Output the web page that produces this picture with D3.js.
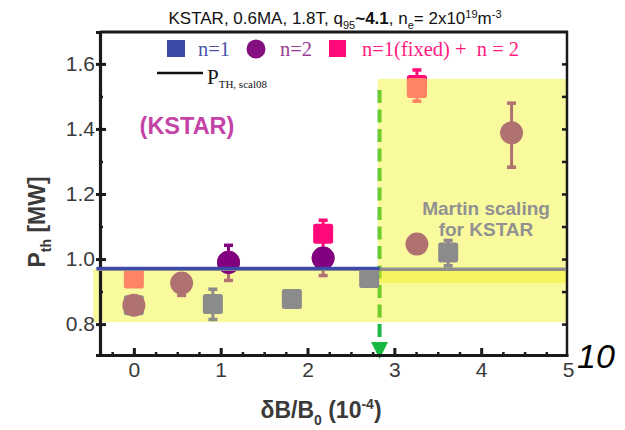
<!DOCTYPE html>
<html>
<head>
<meta charset="utf-8">
<script src="https://cdn.jsdelivr.net/npm/d3@7/dist/d3.min.js"></script>
<style>
  html, body { margin: 0; padding: 0; background: #fff; }
  svg { display: block; }
  text { font-family: "Liberation Sans", Arial, sans-serif; }
  .serif { font-family: "Liberation Serif", "Times New Roman", serif; }
</style>
</head>
<body>
<svg id="chart" width="625" height="430"></svg>
<script>
// ---- data -------------------------------------------------------------
const xTicks = [0, 1, 2, 3, 4, 5];
const yTicks = [0.8, 1.0, 1.2, 1.4, 1.6];

// n=1 scan (grey squares)
const n1X  = [0, 0.91, 1.82, 2.71, 3.62];
const n1Y  = [0.858, 0.862, 0.877, 0.942, 1.020];
const n1Lo = [0.850, 0.815, 0.868, 0.940, 0.980];
const n1Hi = [0.866, 0.908, 0.886, 0.944, 1.058];

// n=2 scan (brown circles)
const n2X  = [0, 0.55, 1.09, 2.18, 3.26, 4.35];
const n2Y  = [0.858, 0.926, 0.990, 1.003, 1.046, 1.388];
const n2Lo = [0.858, 0.889, 0.935, 0.950, 1.046, 1.283];
const n2Hi = [0.858, 0.926, 0.990, 1.003, 1.046, 1.480];

// n=1(fixed) + n=2 scan (salmon squares)
const fixX  = [0, 3.26];
const fixY  = [0.940, 1.526];
const fixLo = [0.940, 1.486];
const fixHi = [0.940, 1.526];

// highlighted n=2 points (purple circles)
const hN2X  = [1.09, 2.18];
const hN2Y  = [0.990, 1.003];
const hN2Lo = [0.990, 1.003];
const hN2Hi = [1.043, 1.003];

// highlighted n=1(fixed)+n=2 points (pink squares)
const hFixX  = [2.18, 3.26];
const hFixY  = [1.078, 1.535];
const hFixLo = [1.030, 1.535];
const hFixHi = [1.120, 1.582];

// threshold power from the ITPA 2008 scaling and the locking threshold
const pThScal08 = 0.97;
const lockX = 2.83;

// shaded bands: [x0, x1, y0, y1]
const bandLow  = [-0.47, 4.98, 0.806, 0.970];
const bandHigh = [2.81, 4.98, 0.926, 1.554];

// ---- scales -----------------------------------------------------------
const svg = d3.select("#chart");
const x = d3.scaleLinear().domain([-0.39, 5.0]).range([100, 568]);
const y = d3.scaleLinear().domain([0.705, 1.698]).range([355, 32]);

const C = {
  gray: "#8b8b8b", brown: "#b07270", salmon: "#ff8466",
  purple: "#82007f", pink: "#ff0a78", blue: "#3d4aa6",
  green: "#1fb845", yellow: "rgb(240,240,0)"
};

// ---- locking threshold arrow (under the yellow bands) ------------------
svg.append("line")
  .attr("x1", x(lockX)).attr("x2", x(lockX))
  .attr("y1", 90).attr("y2", 345)
  .attr("stroke", C.green).attr("stroke-width", 4)
  .attr("stroke-dasharray", "13,6.5");
svg.append("path")
  .attr("d", `M${x(lockX) - 8.5},342 L${x(lockX) + 8.5},342 L${x(lockX)},359 Z`)
  .attr("fill", "#19b843");

// ---- yellow bands -----------------------------------------------------
[bandLow, bandHigh].forEach(b => {
  svg.append("rect")
    .attr("x", x(b[0])).attr("width", x(b[1]) - x(b[0]))
    .attr("y", y(b[3])).attr("height", y(b[2]) - y(b[3]))
    .attr("fill", C.yellow).attr("fill-opacity", 0.38);
});

// ---- axes frame -------------------------------------------------------
const frame = svg.append("g").attr("stroke", "#1a1a1a").attr("fill", "none");
frame.append("line").attr("x1", 100).attr("x2", 568).attr("y1", 32).attr("y2", 32).attr("stroke-width", 3);
frame.append("line").attr("x1", 567).attr("x2", 567).attr("y1", 31).attr("y2", 356).attr("stroke-width", 2.5);

// right-side inward ticks every 0.1
const yMinor = d3.range(0.8, 1.65, 0.1);
svg.append("g").attr("transform", "translate(567,0)")
  .call(d3.axisRight(y).tickValues(yMinor).tickSize(-5).tickFormat(""))
  .call(g => g.select(".domain").remove())
  .call(g => g.selectAll("line").attr("stroke", "#1a1a1a").attr("stroke-width", 2.5));

// left axis: labels + outward major ticks
svg.append("g").attr("transform", "translate(100,0)")
  .call(d3.axisLeft(y).tickValues(yTicks).tickSize(4).tickPadding(1).tickFormat(d3.format(".1f")))
  .call(g => g.select(".domain").attr("stroke", "#1a1a1a").attr("stroke-width", 3.2))
  .call(g => g.selectAll("line").attr("stroke", "#1a1a1a").attr("stroke-width", 3))
  .call(g => g.selectAll("text").attr("fill", "#3a3a3a")
    .style("font-size", "21px").attr("font-family", "Liberation Sans, Arial, sans-serif"));
// left axis: inward ticks
svg.append("g").attr("transform", "translate(100,0)")
  .call(d3.axisLeft(y).tickValues(yTicks).tickSize(-6).tickFormat(""))
  .call(g => g.select(".domain").remove())
  .call(g => g.selectAll("line").attr("stroke", "#1a1a1a").attr("stroke-width", 3));
svg.append("g").attr("transform", "translate(100,0)")
  .call(d3.axisLeft(y).tickValues(d3.range(0.9, 1.65, 0.2)).tickSize(-3).tickFormat(""))
  .call(g => g.select(".domain").remove())
  .call(g => g.selectAll("line").attr("stroke", "#1a1a1a").attr("stroke-width", 2.5));

// bottom axis
svg.append("g").attr("transform", "translate(0,355)")
  .call(d3.axisBottom(x).tickValues(xTicks).tickSize(0).tickPadding(7).tickFormat(d3.format("d")))
  .call(g => g.select(".domain").attr("stroke", "#1a1a1a").attr("stroke-width", 3.2))
  .call(g => g.selectAll("text").attr("fill", "#3a3a3a")
    .style("font-size", "21px").attr("font-family", "Liberation Sans, Arial, sans-serif"));
svg.append("g").attr("transform", "translate(0,355)")
  .call(d3.axisBottom(x).tickValues(xTicks.filter(v => v < 5)).tickSize(-7).tickFormat(""))
  .call(g => g.select(".domain").remove())
  .call(g => g.selectAll("line").attr("stroke", "#1a1a1a").attr("stroke-width", 3));
svg.append("g").attr("transform", "translate(0,355)")
  .call(d3.axisBottom(x).tickValues(d3.range(-0.25, 4.9, 0.25).filter(v => Math.abs(v - Math.round(v)) > 0.01))
    .tickSize(-3).tickFormat(""))
  .call(g => g.select(".domain").remove())
  .call(g => g.selectAll("line").attr("stroke", "#1a1a1a").attr("stroke-width", 2.5));

// ---- markers ----------------------------------------------------------
function errorBar(g, cx, lo, hi, yv, color) {
  if (Math.abs(hi - lo) < 1e-6) return;
  g.append("line").attr("x1", x(cx)).attr("x2", x(cx))
    .attr("y1", y(hi)).attr("y2", y(lo))
    .attr("stroke", color).attr("stroke-width", 3);
  [lo, hi].forEach(v => {
    if (Math.abs(v - yv) < 1e-6) return;
    g.append("rect").attr("x", x(cx) - 4.5).attr("width", 9)
      .attr("y", y(v) - 1.5).attr("height", 3.5).attr("fill", color);
  });
}
function squares(xs, ys, los, his, color) {
  const g = svg.append("g");
  xs.forEach((v, i) => errorBar(g, v, los[i], his[i], ys[i], color));
  g.selectAll("rect.m").data(xs).join("rect").attr("class", "m")
    .attr("x", (d) => x(d) - 10).attr("y", (d, i) => y(ys[i]) - 10)
    .attr("width", 20).attr("height", 20).attr("rx", 2.5)
    .attr("fill", color);
}
function circles(xs, ys, los, his, color) {
  const g = svg.append("g");
  xs.forEach((v, i) => errorBar(g, v, los[i], his[i], ys[i], color));
  g.selectAll("circle").data(xs).join("circle")
    .attr("cx", (d) => x(d)).attr("cy", (d, i) => y(ys[i]))
    .attr("r", 11.5).attr("fill", color);
}

squares(n1X, n1Y, n1Lo, n1Hi, C.gray);
squares(hFixX, hFixY, hFixLo, hFixHi, C.pink);
squares(fixX, fixY, fixLo, fixHi, C.salmon);
circles(n2X, n2Y, n2Lo, n2Hi, C.brown);
circles(hN2X, hN2Y, hN2Lo, hN2Hi, C.purple);

// ---- P_TH,scal08 line -------------------------------------------------
svg.append("line")
  .attr("x1", x(-0.43)).attr("x2", x(4.98))
  .attr("y1", y(pThScal08) + 0.5).attr("y2", y(pThScal08) + 0.5)
  .attr("stroke", "#8a8a8a").attr("stroke-width", 3.5).attr("stroke-opacity", 0.95);
svg.append("line")
  .attr("x1", x(-0.43)).attr("x2", x(lockX))
  .attr("y1", y(pThScal08) - 0.5).attr("y2", y(pThScal08) - 0.5)
  .attr("stroke", C.blue).attr("stroke-width", 3.2);

// ---- annotations ------------------------------------------------------
svg.append("text").attr("x", 187).attr("y", 134).attr("text-anchor", "middle")
  .attr("fill", "#c443a6").attr("font-weight", "bold").style("font-size", "23.5px")
  .text("(KSTAR)");
svg.append("text").attr("x", 486).attr("y", 215).attr("text-anchor", "middle")
  .attr("fill", "#919191").attr("font-weight", "bold").style("font-size", "19px")
  .text("Martin scaling");
svg.append("text").attr("x", 486).attr("y", 236).attr("text-anchor", "middle")
  .attr("fill", "#919191").attr("font-weight", "bold").style("font-size", "19px")
  .text("for KSTAR");

// ---- title ------------------------------------------------------------
const title = svg.append("text").attr("x", 335).attr("y", 24).attr("text-anchor", "middle")
  .attr("fill", "#111").style("font-size", "17px");
title.append("tspan").text("KSTAR, 0.6MA, 1.8T, q");
title.append("tspan").attr("dy", 5).style("font-size", "11px").text("95");
title.append("tspan").attr("dy", -5).attr("font-weight", "bold").text("~4.1");
title.append("tspan").text(", n");
title.append("tspan").attr("dy", 5).style("font-size", "11px").text("e");
title.append("tspan").attr("dy", -5).text("= 2x10");
title.append("tspan").attr("dy", -6).style("font-size", "11px").text("19");
title.append("tspan").attr("dy", 6).text("m");
title.append("tspan").attr("dy", -6).style("font-size", "11px").text("-3");

// ---- legend -----------------------------------------------------------
const lg = svg.append("g");
lg.append("rect").attr("x", 167).attr("y", 40).attr("width", 18).attr("height", 17).attr("fill", C.blue);
lg.append("text").attr("class", "serif").attr("x", 198).attr("y", 56).attr("fill", "#4a55aa")
  .style("font-size", "20.5px").text("n=1");
lg.append("circle").attr("cx", 256).attr("cy", 49).attr("r", 9.5).attr("fill", "#84107f");
lg.append("text").attr("class", "serif").attr("x", 280).attr("y", 56).attr("fill", "#9a3a96")
  .style("font-size", "20.5px").text("n=2");
lg.append("rect").attr("x", 329).attr("y", 40).attr("width", 17).attr("height", 17).attr("fill", C.pink);
lg.append("text").attr("class", "serif").attr("x", 362).attr("y", 56).attr("fill", "#ff1a80")
  .style("font-size", "20.5px").style("white-space", "pre").text("n=1(fixed) +  n = 2");

lg.append("line").attr("x1", 157).attr("x2", 203).attr("y1", 73).attr("y2", 73)
  .attr("stroke", "#111").attr("stroke-width", 2.5);
const pl = lg.append("text").attr("class", "serif").attr("x", 207).attr("y", 84).attr("fill", "#111");
pl.append("tspan").style("font-size", "21px").text("P");
pl.append("tspan").attr("dy", 4).style("font-size", "11px").text("TH, scal08");

// ---- axis titles ------------------------------------------------------
const yl = svg.append("text").attr("transform", "translate(45,222) rotate(-90)")
  .attr("text-anchor", "middle").attr("fill", "#3a3a3a").attr("font-weight", "bold")
  .style("font-size", "23px");
yl.append("tspan").text("P");
yl.append("tspan").attr("dy", 6).style("font-size", "14px").text("th");
yl.append("tspan").attr("dy", -6).text(" [MW]");

const xl = svg.append("text").attr("x", 321).attr("y", 418).attr("text-anchor", "middle")
  .attr("fill", "#3a3a3a").attr("font-weight", "bold").style("font-size", "23px");
xl.append("tspan").text("δB/B");
xl.append("tspan").attr("dy", 7).style("font-size", "14px").text("0");
xl.append("tspan").attr("dy", -7).text(" (10");
xl.append("tspan").attr("dy", -9).style("font-size", "14px").text("-4");
xl.append("tspan").attr("dy", 9).text(")");

// exponent of the x axis
svg.append("text").attr("x", 577).attr("y", 368).attr("fill", "#000")
  .attr("font-style", "italic").style("font-size", "34px").text("10");
</script>
</body>
</html>
